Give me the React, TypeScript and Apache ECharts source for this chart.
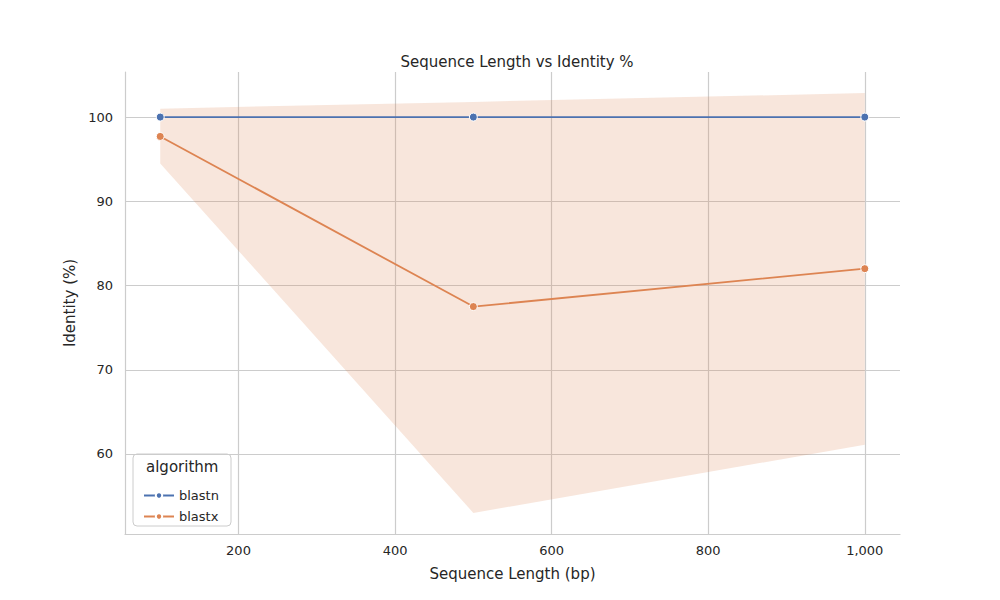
import { useEffect, useRef } from "react";
import * as echarts from "echarts";

const lengths = [100, 500, 1000];
const blastn = [100, 100, 100];
const blastx = [97.7, 77.5, 82.0];
const blastxUpper = [101.0, 101.8, 102.85];
const blastxLower = [94.5, 53.0, 61.1];
const xTicks = [200, 400, 600, 800, 1000];
const yTicks = [60, 70, 80, 90, 100];

const BLUE = "#4c72b0";
const ORANGE = "#dd8452";

function App() {
    const chartRef = useRef<HTMLDivElement>(null);

    useEffect(() => {
        if (!chartRef.current) return;
        const chart = echarts.init(chartRef.current, null, { renderer: "svg" });
        const txt = "#262626";
        const font = "DejaVu Sans";

        chart.setOption({
            animation: false,
            textStyle: { fontFamily: font },
            title: {
                text: "Sequence Length vs Identity %",
                left: 512,
                textAlign: "center",
                top: 49,
                textStyle: { fontSize: 15, fontWeight: "normal", color: txt, fontFamily: font }
            },
            grid: { left: 125, right: 100, top: 72, bottom: 66 },
            xAxis: {
                type: "value",
                min: 55,
                max: 1045,
                name: "Sequence Length (bp)",
                nameLocation: "middle",
                nameGap: 32,
                nameTextStyle: { fontSize: 15, color: txt },
                axisLine: { show: true, lineStyle: { color: "#cccccc", width: 1.2 } },
                axisTick: { show: false, customValues: xTicks },
                axisLabel: { customValues: xTicks, fontSize: 13, color: txt, margin: 10 },
                splitLine: { show: true, lineStyle: { color: "#cccccc", width: 1.2 } }
            },
            yAxis: {
                type: "value",
                min: 50.5,
                max: 105.35,
                name: "Identity (%)",
                nameLocation: "middle",
                nameGap: 45,
                nameTextStyle: { fontSize: 15, color: txt },
                axisLine: { show: true, lineStyle: { color: "#cccccc", width: 1.2 } },
                axisTick: { show: false, customValues: yTicks },
                axisLabel: { customValues: yTicks, fontSize: 13, color: txt, margin: 12 },
                splitLine: { show: true, lineStyle: { color: "#cccccc", width: 1.2 } }
            },
            legend: {
                orient: "vertical",
                left: 138,
                top: 484,
                itemWidth: 30,
                itemHeight: 8,
                itemGap: 8,
                textStyle: { fontSize: 13, color: txt },
                data: ["blastn", "blastx"]
            },
            graphic: [
                {
                    type: "rect",
                    shape: { x: 133, y: 454, width: 98, height: 72, r: 4 },
                    style: { fill: "rgba(255,255,255,0.8)", stroke: "#cccccc", lineWidth: 1 },
                    z: -1
                },
                {
                    type: "text",
                    x: 146,
                    y: 459,
                    style: { text: "algorithm", fontSize: 15, fill: txt, fontFamily: font }
                }
            ],
            series: [
                {
                    type: "custom",
                    name: "band",
                    silent: true,
                    z: 1,
                    data: [0],
                    renderItem: (_params: any, api: any) => {
                        const pts: number[][] = [];
                        lengths.forEach((x, i) => pts.push(api.coord([x, blastxUpper[i]])));
                        for (let i = lengths.length - 1; i >= 0; i--)
                            pts.push(api.coord([lengths[i], blastxLower[i]]));
                        return {
                            type: "polygon",
                            shape: { points: pts },
                            style: { fill: "rgba(221,132,82,0.2)", stroke: "none" }
                        };
                    }
                },
                {
                    type: "line",
                    name: "blastn",
                    z: 3,
                    data: lengths.map((x, i) => [x, blastn[i]]),
                    color: BLUE,
                    symbol: "circle",
                    symbolSize: 8,
                    lineStyle: { width: 1.8, color: BLUE },
                    itemStyle: { color: BLUE, borderColor: "#fff", borderWidth: 1 }
                },
                {
                    type: "line",
                    name: "blastx",
                    z: 3,
                    data: lengths.map((x, i) => [x, blastx[i]]),
                    color: ORANGE,
                    symbol: "circle",
                    symbolSize: 8,
                    lineStyle: { width: 1.8, color: ORANGE },
                    itemStyle: { color: ORANGE, borderColor: "#fff", borderWidth: 1 }
                }
            ]
        });

        return () => {
            chart.dispose();
        };
    }, []);

    return (
        <div
            ref={chartRef}
            style={{ position: "fixed", left: 0, top: 0, width: "1000px", height: "600px", background: "#fff" }}
        />
    );
}

export default App;
